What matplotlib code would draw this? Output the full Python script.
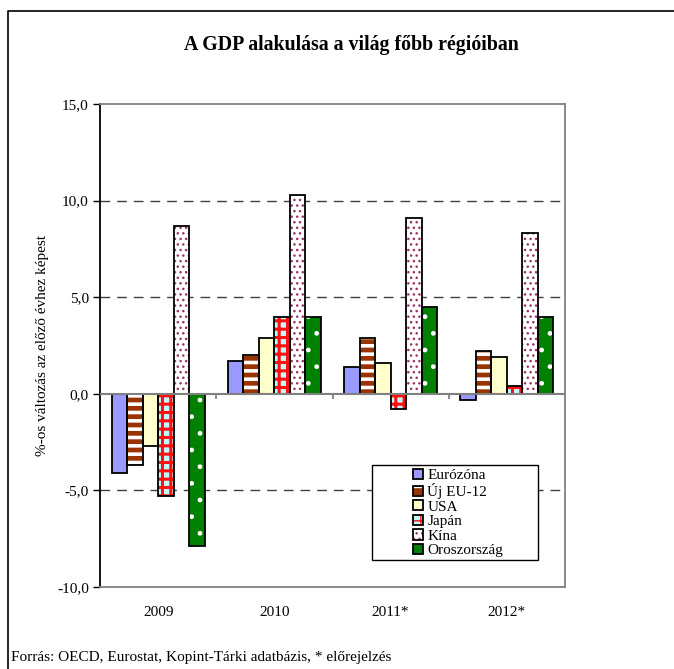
import matplotlib
matplotlib.use("Agg")
import matplotlib.pyplot as plt
import numpy as np
from matplotlib.patches import Rectangle

# ---------------- data
evek = ["2009", "2010", "2011*", "2012*"]
eurozona = [-4.1, 1.7, 1.4, -0.3]
uj_eu12 = [-3.7, 2.0, 2.9, 2.2]
usa = [-2.7, 2.9, 1.6, 1.9]
japan = [-5.3, 4.0, -0.8, 0.4]
kina = [8.7, 10.3, 9.1, 8.3]
oroszorszag = [-7.9, 4.0, 4.5, 4.0]

nevek = ["Eurózóna", "Új EU-12", "USA", "Japán", "Kína", "Oroszország"]
sorok = [eurozona, uj_eu12, usa, japan, kina, oroszorszag]

# face, hatch, hatch colour, hatch width
stilus = [("#9999FF", None, "#9999FF", 1.0),
          ("#993300", "--", "white", 2.6),
          ("#FFFFCC", None, "#FFFFCC", 1.0),
          ("#BFFBFF", "++", "#FF1010", 2.2),
          ("white", "...", "#993366", 1.0),
          ("#008000", ".", "white", 1.0)]

plt.rcParams["font.family"] = ["Liberation Serif", "DejaVu Serif"]

fig = plt.figure(figsize=(6.74, 6.69), dpi=100)
ax = fig.add_axes([100/674, 1-587/669, 465/674, 483/669])

x = np.arange(len(evek))
w = 0.133
handles = []
for k, (nev, ertek) in enumerate(zip(nevek, sorok)):
    face, hatch, hcol, hlw = stilus[k]
    pos = x + (k - 2.5) * w
    with plt.rc_context({"hatch.linewidth": hlw}):
        b1 = ax.bar(pos, ertek, w, color=face, hatch=hatch, edgecolor=hcol,
                    linewidth=0, zorder=3)
    b2 = ax.bar(pos, ertek, w, facecolor="none", edgecolor="black",
                linewidth=1.3, zorder=4)
    handles.append((b1[0], b2[0]))

ax.set_xlim(-0.5, 3.5)
ax.set_ylim(-10, 15)
ax.set_yticks(np.arange(-10, 16, 5))
ax.set_yticklabels([f"{v:.1f}".replace(".", ",") for v in np.arange(-10, 16, 5)])
ax.set_xticks(x)
ax.set_xticklabels(evek)
ax.tick_params(axis="x", length=0, pad=14, labelsize=11)
ax.tick_params(axis="y", length=5, width=1, labelsize=11, pad=3, color="black")

for v in [-5, 5, 10]:
    ax.axhline(v, color="#404040", lw=1, ls=(0, (7, 5)), zorder=1)
ax.axhline(0, color="#808080", lw=1.5, zorder=5)
ax.vlines(x[:-1] + 0.5, -0.25, 0, color="#808080", lw=1.3, zorder=5)

for s in ["top", "right", "bottom"]:
    ax.spines[s].set_color("#808080")
    ax.spines[s].set_linewidth(1.3)
ax.spines["left"].set_color("black")
ax.spines["left"].set_linewidth(1.3)

ax.set_ylabel("%-os változás az előző évhez képest", fontsize=11, labelpad=6)

# legend
ax.add_patch(Rectangle((372/674, 1-560/669), 166/674, 95/669, transform=fig.transFigure,
                       facecolor="white", edgecolor="black", lw=1, zorder=6))
leg = fig.legend(handles, nevek, loc="upper left", bbox_to_anchor=(402/674, 1-458/669),
                 frameon=False, fontsize=11, handlelength=0.65, handleheight=0.65,
                 handletextpad=0.3, labelspacing=0.07, borderpad=0.2)
leg.set_zorder(7)

fig.text(351/674, 1-45/669, "A GDP alakulása a világ főbb régióiban",
         ha="center", va="center", fontsize=14.3, fontweight="bold")
fig.text(11/674, 1-657/669, "Forrás: OECD, Eurostat, Kopint-Tárki adatbázis, * előrejelzés",
         ha="left", va="center", fontsize=11)

# outer frame
fig.add_artist(plt.Line2D([8/674, 8/674, 1], [0, 1-11/669, 1-11/669],
                          transform=fig.transFigure, color="black", lw=1.2))

fig.savefig("out.png", dpi=100)
